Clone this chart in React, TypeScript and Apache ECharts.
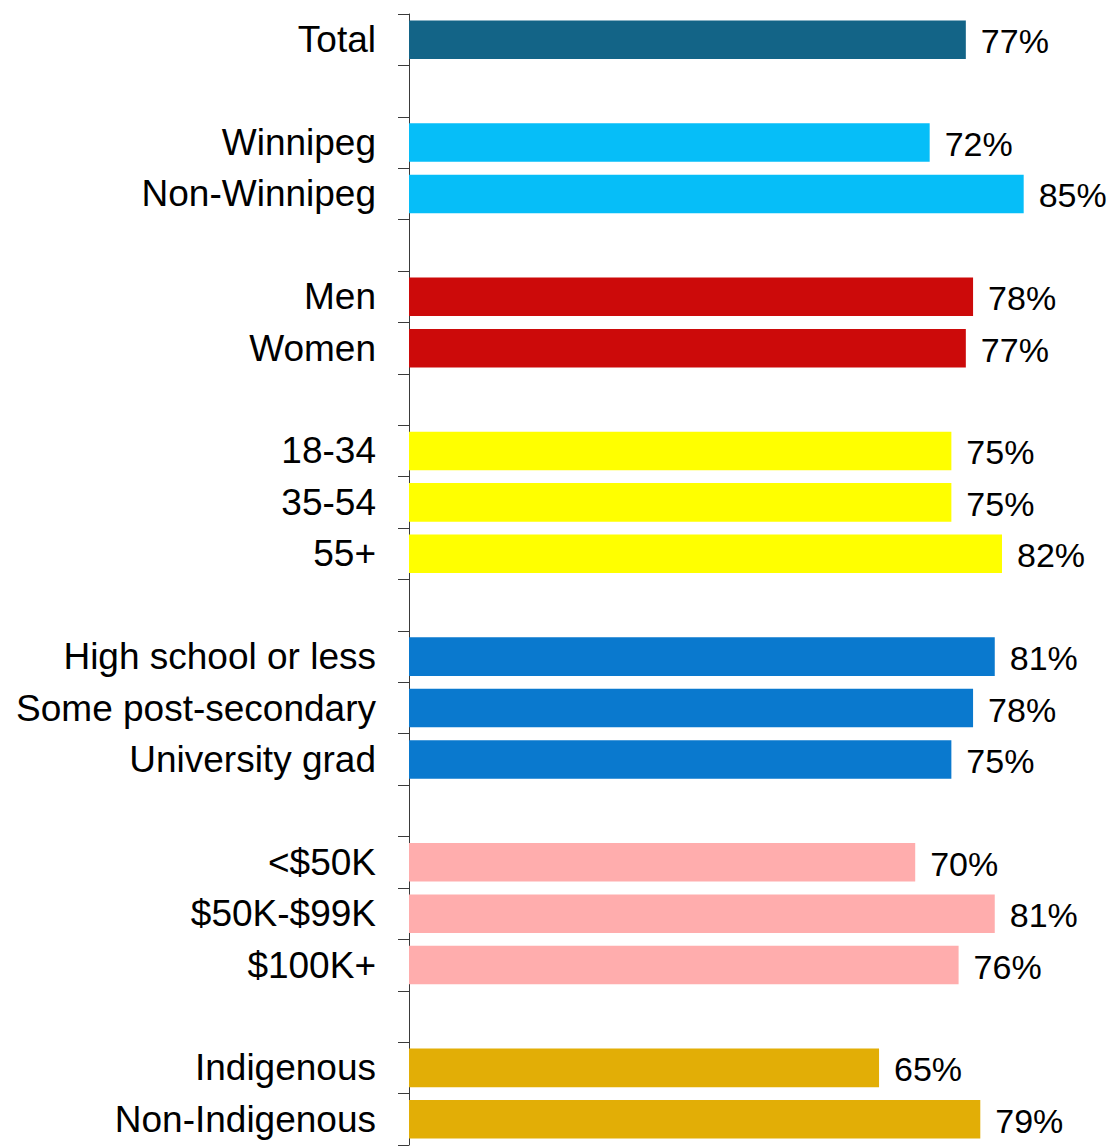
import React, { useEffect, useRef } from "react";
import * as echarts from "echarts";

const totalCats = ["Total"];
const totalVals = [77];
const regionCats = ["Winnipeg", "Non-Winnipeg"];
const regionVals = [72, 85];
const genderCats = ["Men", "Women"];
const genderVals = [78, 77];
const ageCats = ["18-34", "35-54", "55+"];
const ageVals = [75, 75, 82];
const eduCats = ["High school or less", "Some post-secondary", "University grad"];
const eduVals = [81, 78, 75];
const incomeCats = ["<$50K", "$50K-$99K", "$100K+"];
const incomeVals = [70, 81, 76];
const indigCats = ["Indigenous", "Non-Indigenous"];
const indigVals = [65, 79];

const groups = [
  { cats: totalCats, vals: totalVals, color: "#136487" },
  { cats: regionCats, vals: regionVals, color: "#06BEF8" },
  { cats: genderCats, vals: genderVals, color: "#CC0A0A" },
  { cats: ageCats, vals: ageVals, color: "#FFFF00" },
  { cats: eduCats, vals: eduVals, color: "#0A79CE" },
  { cats: incomeCats, vals: incomeVals, color: "#FFADAD" },
  { cats: indigCats, vals: indigVals, color: "#E2AE06" },
];

export default function App() {
  const ref = useRef<HTMLDivElement>(null);
  useEffect(() => {
    if (!ref.current) return;
    const chart = echarts.init(ref.current, undefined, { renderer: "svg" });
    const categories: string[] = [];
    const data: any[] = [];
    groups.forEach((g, gi) => {
      if (gi > 0) {
        categories.push(" ".repeat(gi));
        data.push("-");
      }
      g.cats.forEach((c, i) => {
        categories.push(c);
        data.push({ value: g.vals[i], itemStyle: { color: g.color } });
      });
    });
    chart.setOption({
      animation: false,
      backgroundColor: "#ffffff",
      grid: { left: 409, top: 14, width: 687, height: 1131, outerBoundsMode: "none", containLabel: false },
      xAxis: { type: "value", min: 0, max: 95, show: false },
      yAxis: {
        type: "category",
        data: categories,
        inverse: true,
        axisLine: { show: true, lineStyle: { color: "#3a3a3a", width: 1 } },
        axisTick: { show: true, length: 11, lineStyle: { color: "#3a3a3a", width: 1 } },
        axisLabel: {
          margin: 33,
          fontSize: 37,
          color: "#000000",
          fontFamily: "Liberation Sans, Arial, sans-serif",
        },
        splitLine: { show: false },
      },
      series: [
        {
          type: "bar",
          data,
          barCategoryGap: "25%",
          label: {
            show: true,
            position: "right",
            distance: 15,
            offset: [0, 1.5],
            formatter: "{c}%",
            fontSize: 34,
            color: "#000000",
            fontFamily: "Liberation Sans, Arial, sans-serif",
          },
        },
      ],
    });
    return () => chart.dispose();
  }, []);
  return (
    <div
      ref={ref}
      style={{ position: "fixed", left: 0, top: 0, width: 1115, height: 1146, background: "#fff" }}
    />
  );
}
